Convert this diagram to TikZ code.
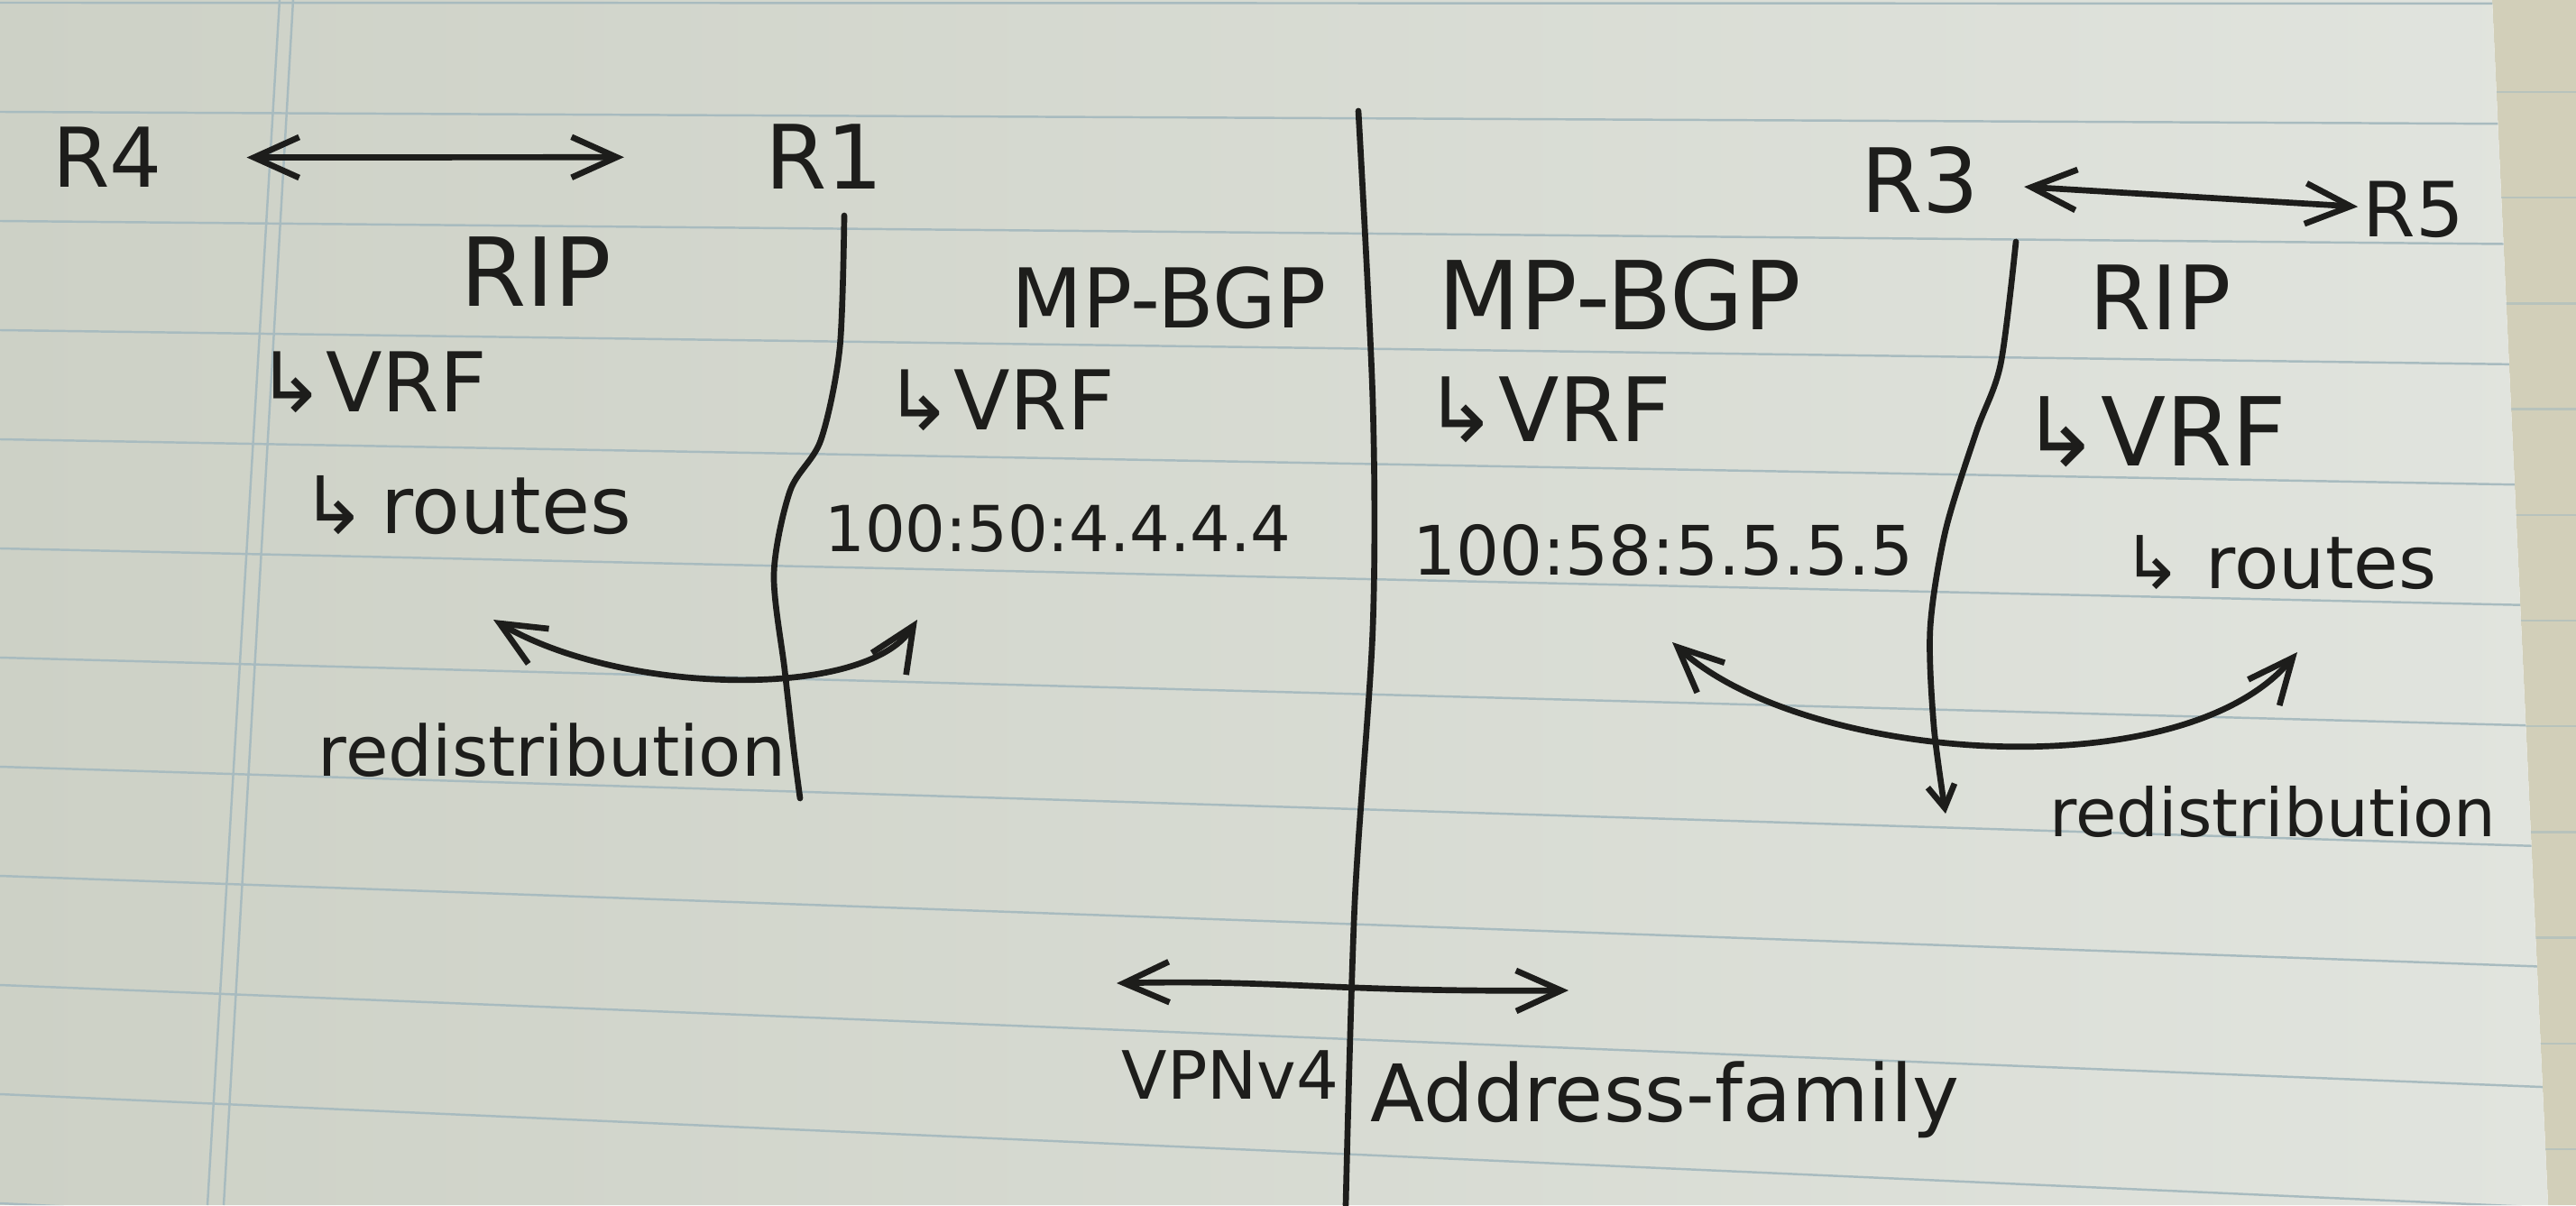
\documentclass[tikz,border=0pt]{standalone}
\usepackage{fontspec}
\setmainfont{DejaVu Sans}
\usetikzlibrary{arrows.meta}

\definecolor{ink}{HTML}{1D1D1B}
\definecolor{paperA}{HTML}{CDD1C6}
\definecolor{paperB}{HTML}{E1E4DE}
\definecolor{paperC}{HTML}{D2CFB9}
\definecolor{ruleC}{HTML}{A8BBBF}

\tikzset{
  hw/.style={font=\fontsize{#1}{#1}\selectfont, text=ink, inner sep=0pt, anchor=base},
  pen/.style={draw=ink, line width=1.9pt, line cap=round, line join=round},
  dbl/.style={pen, {Straight Barb[length=5mm, width=4.5mm]}-{Straight Barb[length=5mm, width=4.5mm]}},
  rule/.style={draw=ruleC, line width=0.7pt}
}

\begin{document}
\begin{tikzpicture}
  \useasboundingbox (0,0) rectangle (28.56,13.36);

  % notebook page
  \fill[paperC] (28.25,0) -- (28.56,0) -- (28.56,13.36) -- (27.63,13.36) -- cycle;
  \foreach \k in {0,...,10}
    \draw[rule, opacity=0.6] (27.6,12.34-1.172*\k) -- (28.56,12.34-1.172*\k);
  \shade[left color=paperA, right color=paperB]
    (0,0) -- (28.25,0) -- (27.63,13.36) -- (0,13.36) -- cycle;
  \begin{scope}
    \clip (0,0) -- (28.25,0) -- (27.63,13.36) -- (0,13.36) -- cycle;
    \foreach \k in {0,...,11}
      \draw[rule] (0,13.33-1.21*\k) -- (28.3,13.32-1.335*\k);
  \end{scope}
  \draw[rule] (3.10,13.36) -- (2.30,0);
  \draw[rule] (3.25,13.36) -- (2.48,0);

  % routers
  \node[hw=26] (r4) at (1.19,11.28) {R4};
  \node[hw=28] (r1) at (9.14,11.26) {R1};
  \node[hw=28] (r3) at (21.29,11.00) {R3};
  \node[hw=24] (r5) at (26.76,10.73) {R5};
  \draw[dbl, shorten <=0.93cm, shorten >=1.56cm] (r4) -- (r1);
  \draw[dbl, shorten <=0.49cm, shorten >=0.05cm] (r3) -- (r5);

  % left: R1 side
  \node[hw=30] (ripL) at (5.94,9.96) {RIP};
  \node[hw=26] (vrfL) at (4.12,8.79) {↳VRF};
  \node[hw=25] (routesL) at (5.17,7.44) {↳\,routes};
  \node[hw=22] (redistL) at (6.12,4.76) {redistribution};

  \node[hw=26] (bgpL) at (12.96,9.72) {MP-BGP};
  \node[hw=26] (vrfBL) at (11.08,8.59) {↳VRF};
  \node[hw=20] (rdL) at (11.73,7.25) {100:50:4.4.4.4};

  % right: R3 side
  \node[hw=30] (bgpR) at (17.96,9.70) {MP-BGP};
  \node[hw=28] (vrfBR) at (17.16,8.46) {↳VRF};
  \node[hw=21.5] (rdR) at (18.44,6.99) {100:58:5.5.5.5};

  \node[hw=28] (ripR) at (23.95,9.70) {RIP};
  \node[hw=30] (vrfR) at (23.88,8.19) {↳VRF};
  \node[hw=23] (routesR) at (25.27,6.83) {↳ routes};
  \node[hw=21] (redistR) at (25.20,4.09) {redistribution};

  % bottom
  \node[hw=21] (vpn) at (13.64,1.18) {VPNv4};
  \node[hw=25] (af) at (18.46,0.93) {Address-family};

  % dividers
  \draw[pen] plot[smooth] coordinates {(9.36,10.97) (9.31,9.50) (9.10,8.48)
    (8.76,7.92) (8.58,7.00) (8.70,5.93) (8.80,5.05) (8.87,4.51)};
  \draw[pen] plot[smooth] coordinates {(15.06,12.13) (15.22,8.9) (15.22,6.4)
    (15.02,3.36) (14.92,0)};
  \draw[pen, -{Straight Barb[length=2.5mm, width=3mm]}] plot[smooth] coordinates
    {(22.35,10.68) (22.18,9.32) (21.91,8.57) (21.57,7.48) (21.40,6.40)
     (21.44,5.31) (21.57,4.34)};

  % redistribution arrows
  \coordinate (cL1) at (5.47,6.49);
  \coordinate (cL2) at (10.17,6.49);
  \coordinate (cR1) at (18.54,6.24);
  \coordinate (cR2) at (25.47,6.13);
  \draw[dbl] (cL1) .. controls (6.9,5.65) and (9.6,5.6) .. (cL2);
  \draw[dbl] (cR1) .. controls (20.0,4.9) and (24.2,4.6) .. (cR2);

  % vpnv4 session
  \coordinate (bA) at (12.38,2.46);
  \coordinate (bB) at (17.39,2.38);
  \draw[dbl] (bA) .. controls (14.2,2.50) and (14.8,2.36) .. (bB);
\end{tikzpicture}
\end{document}
